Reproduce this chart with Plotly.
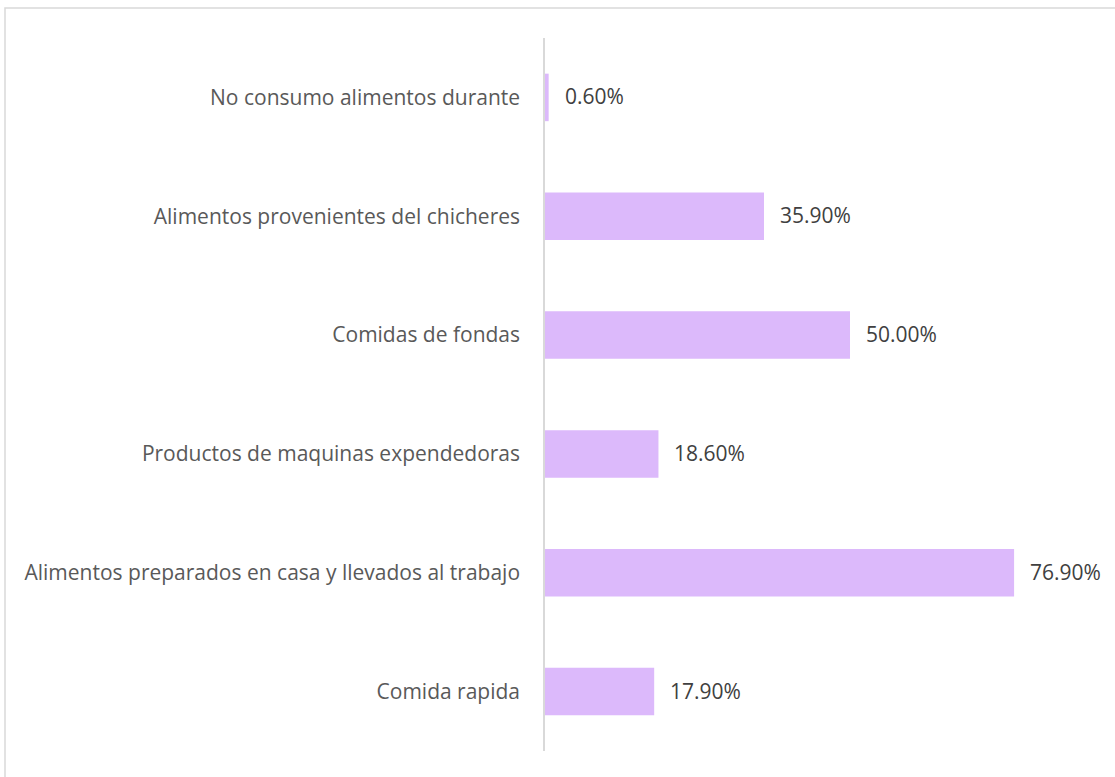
import plotly.graph_objects as go

categories = [
    "Comida rapida",
    "Alimentos preparados en casa y llevados al trabajo",
    "Productos de maquinas expendedoras",
    "Comidas de fondas",
    "Alimentos provenientes del chicheres",
    "No consumo alimentos durante",
]
values = [17.9, 76.9, 18.6, 50.0, 35.9, 0.6]
labels = [f"{v:.2f}%" for v in values]

W, H = 1115, 777
L, R, T, B = 545, 21, 38, 26
pw, ph = W - L - R, H - T - B

fig = go.Figure(
    go.Bar(
        x=values,
        y=categories,
        orientation="h",
        marker=dict(color="#DCB9FB", line=dict(width=0)),
        width=0.4,
        hoverinfo="skip",
    )
)

# value labels a little away from the bar end
for v, c, t in zip(values, categories, labels):
    fig.add_annotation(
        x=v, y=c, text=t, showarrow=False,
        xanchor="left", xshift=14, yshift=1,
        font=dict(size=21, color="#404040"),
    )

# outer chart frame (light grey border)
fig.add_shape(
    type="rect", xref="paper", yref="paper",
    x0=(5 - L) / pw, x1=1 + (R + 10) / pw,
    y0=-(B + 10) / ph, y1=1 + (T - 8) / ph,
    line=dict(color="#D9D9D9", width=1.5), fillcolor="rgba(0,0,0,0)",
    layer="below",
)

fig.update_layout(
    width=W, height=H,
    margin=dict(l=L, r=R, t=T, b=B),
    paper_bgcolor="white", plot_bgcolor="white",
    font=dict(family="Open Sans, Noto Sans, sans-serif", color="#595959", size=21),
    showlegend=False,
    xaxis=dict(range=[0, 90], visible=False, showgrid=False, zeroline=False),
    yaxis=dict(
        showgrid=False, zeroline=False,
        showline=True, linecolor="#D9D9D9", linewidth=1.5,
        ticks="", ticklabelstandoff=19,
        tickfont=dict(size=21, color="#595959"),
    ),
)

fig.write_html(
    "out.html",
    config={"displayModeBar": False},
    post_script="document.body.style.margin='0';",
)
